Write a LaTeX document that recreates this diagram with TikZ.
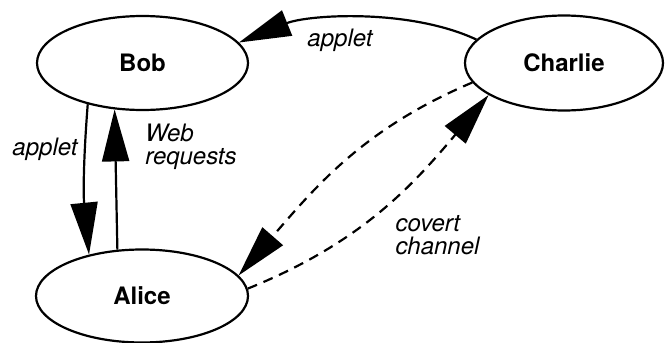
\documentclass[tikz,border=0pt]{standalone}
\usepackage{fontspec}
\setmainfont{TeX Gyre Heros}
\usetikzlibrary{shapes.geometric,arrows.meta}
\tikzstyle{party} = [ellipse, draw=black, line width=1.1pt, minimum width=105.5pt, minimum height=47pt, text centered, font=\fontsize{12}{12}\selectfont\bfseries]
\tikzstyle{arrow} = [line width=1.1pt, -{Triangle[length=26pt,width=13.5pt]}]
\tikzstyle{covert} = [arrow, dash pattern=on 5pt off 3.5pt]
\tikzstyle{lbl} = [inner sep=0pt, align=left, font=\fontsize{12}{11.5}\selectfont\itshape]

\begin{document}
\begin{tikzpicture}[x=0.5pt, y=-0.5pt]
      \useasboundingbox (0,0) rectangle (665,343);
      \node (bob)[party] at (142.5,63) {Bob};
      \node (charlie)[party, minimum width=99pt, minimum height=47.5pt] at (564,63) {Charlie};
      \node (alice)[party, minimum width=106pt, minimum height=46.5pt] at (142,296) {Alice};
      % applets and requests
      \draw [arrow](charlie.165) to[out=155, in=22, looseness=0.8] (bob.12);
      \draw [arrow](bob.217) to[bend right=5] (alice.142);
      \draw [arrow](alice.118) -- (bob.239);
      % covert channel
      \draw [covert](charlie.192) to[out=203, in=49] (alice.12);
      \draw [covert](alice.4) to[out=22, in=230] (charlie.203);
      \node (l1)[lbl] at (340,40) {applet};
      \node (l2)[lbl] at (45,149) {applet};
      \node (l3)[lbl] at (191,147) {Web\\requests};
      \node (l4)[lbl] at (437.5,235) {covert\\channel};
    \end{tikzpicture}
\end{document}
